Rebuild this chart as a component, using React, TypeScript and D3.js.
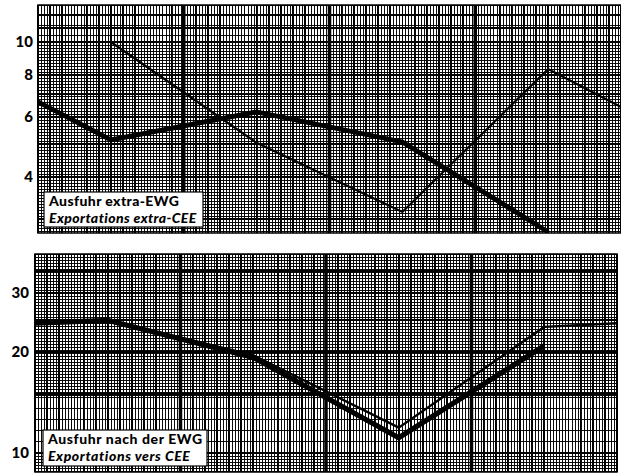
import React from 'react';
import * as d3 from 'd3';

// ---- data ----
// time axis in "years" from the left edge of the sheet; the points sit at mid-year
const periods = [0, 0.5, 1.5, 2.5, 3.5, 4];
const yearBoundaries = [1, 2, 3];

const topTicks = [10, 8, 6, 4];
const bottomTicks = [30, 20, 10];

// Ausfuhr extra-EWG / Exportations extra-CEE
const topThickValues: (number | null)[] = [6.66, 5.14, 6.22, 5.07, 2.75, null];
const topThinValues: (number | null)[] = [null, 10.0, 5.04, 3.15, 8.32, 6.43];

// Ausfuhr nach der EWG / Exportations vers CEE
const bottomThickValues: (number | null)[] = [24.4, 24.9, 19.3, 11.1, 20.9, null];
const bottomThinValues: (number | null)[] = [24.4, 24.9, 19.6, 11.9, 23.8, 24.4];

const topLegend = ['Ausfuhr extra-EWG', 'Exportations extra-CEE'];
const bottomLegend = ['Ausfuhr nach der EWG', 'Exportations vers CEE'];

const FONT = "Lato, 'Open Sans', 'DejaVu Sans', sans-serif";

type Band = { from: number; to: number; step: number };

type PanelProps = {
  id: string;
  xRange: [number, number];
  yRange: [number, number]; // [bottom, top]
  domain: [number, number];
  ticks: number[];
  tickX: number;
  mediumH: number[];
  bands: Band[];
  series: { values: (number | null)[]; width: number }[];
  legend: string[];
  legendBox: { x0: number; x1: number; y0: number; y1: number };
  legendSpacing: number;
};

function Panel(p: PanelProps) {
  const x = d3.scaleLinear().domain([0, 4]).range(p.xRange);
  const y = d3.scaleLog().domain(p.domain).range(p.yRange);
  const [x0, x1] = p.xRange;
  const [yb, yt] = p.yRange;

  const fineV = d3.range(0, 4 * 48 + 1).map((i) => x(i / 48));
  const medV = d3.range(0, 4 * 12 + 1).map((i) => x(i / 12));
  const fineH: number[] = [];
  p.bands.forEach((b) => {
    const ya = y(b.to);
    const yz = y(b.from);
    d3.range(ya, yz, b.step).forEach((v) => fineH.push(v));
  });

  const line = d3
    .line<[number, number | null]>()
    .defined((d) => d[1] != null)
    .x((d) => x(d[0]))
    .y((d) => y(d[1] as number));

  const lb = p.legendBox;
  return (
    <g>
      <defs>
        <clipPath id={p.id}>
          <rect x={x0} y={yt} width={x1 - x0} height={yb - yt} />
        </clipPath>
      </defs>
      <g shapeRendering="crispEdges" stroke="#000">
        {fineV.map((v, i) => (
          <line key={'fv' + i} x1={Math.round(v) + 0.5} x2={Math.round(v) + 0.5} y1={yt} y2={yb} strokeWidth={1} strokeOpacity={0.95} />
        ))}
        {fineH.map((v, i) => (
          <line key={'fh' + i} x1={x0} x2={x1} y1={Math.round(v) + 0.5} y2={Math.round(v) + 0.5} strokeWidth={1} strokeOpacity={0.95} />
        ))}
        {medV.map((v, i) => (
          <line key={'mv' + i} x1={v} x2={v} y1={yt} y2={yb} strokeWidth={1.6} />
        ))}
        {p.mediumH.map((v, i) => (
          <line key={'mh' + i} x1={x0} x2={x1} y1={y(v)} y2={y(v)} strokeWidth={1.6} />
        ))}
      </g>
      {yearBoundaries.map((v, i) => (
        <line key={'yb' + i} x1={x(v)} x2={x(v)} y1={yt} y2={yb} stroke="#000" strokeWidth={3.5} />
      ))}
      <rect x={x0} y={yt} width={x1 - x0} height={yb - yt} fill="none" stroke="#000" strokeWidth={1.5} />
      <g clipPath={`url(#${p.id})`}>
        {p.series.map((s, i) => (
          <path
            key={'s' + i}
            d={line(periods.map((t, k) => [t, s.values[k]]) as [number, number | null][]) || ''}
            fill="none"
            stroke="#000"
            strokeWidth={s.width}
            strokeLinejoin="miter"
          />
        ))}
      </g>
      <rect x={lb.x0} y={lb.y0} width={lb.x1 - lb.x0} height={lb.y1 - lb.y0} fill="#fff" stroke="#000" strokeWidth={1.2} />
      <text x={lb.x0 + 5} y={lb.y0 + 14} fontFamily={FONT} fontWeight={900} fontSize={14} letterSpacing={p.legendSpacing} fill="#000">
        {p.legend[0]}
      </text>
      <text x={lb.x0 + 5} y={lb.y0 + 31} fontFamily={FONT} fontWeight={900} fontStyle="italic" fontSize={14} letterSpacing={p.legendSpacing} fill="#000">
        {p.legend[1]}
      </text>
      {p.ticks.map((t) => (
        <text
          key={'t' + t}
          x={p.tickX}
          y={y(t)}
          dy="0.35em"
          textAnchor="end"
          fontFamily={FONT}
          fontWeight={900}
          fontSize={15}
          fill="#000"
        >
          {t}
        </text>
      ))}
    </g>
  );
}

export default function App() {
  return (
    <svg
      width={621}
      height={475}
      viewBox="0 0 621 475"
      style={{ position: 'absolute', left: 0, top: 0, background: '#fff' }}
    >
      <rect x={0} y={0} width={621} height={475} fill="#fff" />
      <Panel
        id="clipTop"
        xRange={[38, 621]}
        yRange={[233, 5]}
        domain={[2.73, 12.86]}
        ticks={topTicks}
        tickX={33}
        mediumH={[3, 4, 5, 6, 7, 8, 9, 10, 11, 12]}
        bands={[
          { from: 2.73, to: 10, step: 3 },
          { from: 10, to: 12.86, step: 10 },
        ]}
        series={[
          { values: topThickValues, width: 4.8 },
          { values: topThinValues, width: 2.2 },
        ]}
        legend={topLegend}
        legendBox={{ x0: 44, x1: 203, y0: 192, y1: 227 }}
        legendSpacing={0.4}
      />
      <Panel
        id="clipBottom"
        xRange={[35, 617]}
        yRange={[472, 254]}
        domain={[8.77, 39.3]}
        ticks={bottomTicks}
        tickX={29}
        mediumH={[10, 15, 20, 25, 30, 35]}
        bands={[
          { from: 8.77, to: 10, step: 3 },
          { from: 10, to: 14.7, step: 11 },
          { from: 14.7, to: 39.3, step: 3 },
        ]}
        series={[
          { values: bottomThickValues, width: 5.2 },
          { values: bottomThinValues, width: 2.4 },
        ]}
        legend={bottomLegend}
        legendBox={{ x0: 43, x1: 207, y0: 430, y1: 466 }}
        legendSpacing={0.6}
      />
    </svg>
  );
}
